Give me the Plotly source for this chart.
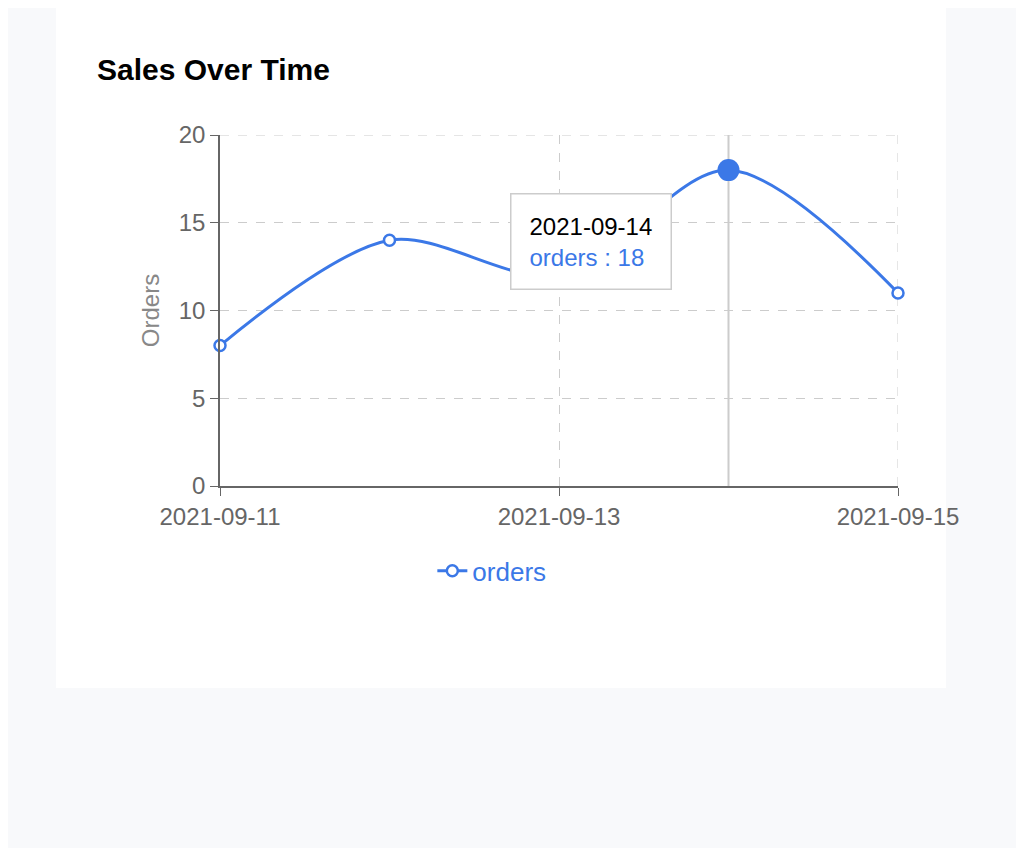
import plotly.graph_objects as go

dates = ["2021-09-11", "2021-09-12", "2021-09-13", "2021-09-14", "2021-09-15"]
orders = [8, 14, 12, 18, 11]
tick_dates = ["2021-09-11", "2021-09-13", "2021-09-15"]
active = 3
blue = "#3b78e7"

fig = go.Figure()
fig.add_trace(go.Scatter(x=dates, y=orders, mode="lines+markers", name="orders", cliponaxis=False,
    line=dict(color=blue, width=3, shape="spline", smoothing=0.9),
    marker=dict(size=11, color="white", line=dict(color=blue, width=2.5)),
    hoverinfo="skip"))
fig.add_trace(go.Scatter(x=[dates[active]], y=[orders[active]], mode="markers", showlegend=False,
    marker=dict(size=22, color=blue, line=dict(color="white", width=0)), hoverinfo="skip"))

fig.update_layout(
    width=1008, height=840, margin=dict(l=0, r=0, t=0, b=0, autoexpand=False),
    paper_bgcolor="#f8f9fb", plot_bgcolor="white",
    font=dict(family="Liberation Sans, Arial", color="#666", size=24),
    showlegend=True,
    legend=dict(x=0.48, y=0.33, xanchor="center", yanchor="middle", orientation="h",
                font=dict(color=blue, size=26), bgcolor="rgba(0,0,0,0)"),
    xaxis=dict(domain=[212/1008, 890/1008], type="date", range=["2021-09-11", "2021-09-15"],
               automargin=False,
               tickvals=tick_dates, ticktext=tick_dates, showgrid=True, gridcolor="#ccc",
               griddash="dash", showline=True, linecolor="#666", linewidth=1.5,
               ticks="outside", ticklen=8, tickcolor="#666", zeroline=False),
    yaxis=dict(domain=[1-478/840, 1-127/840], range=[0, 20], tickvals=[0, 5, 10, 15, 20],
               automargin=False,
               showgrid=True, gridcolor="#ccc", griddash="dash", showline=True,
               linecolor="#666", linewidth=1.5, ticks="outside", ticklen=8, tickcolor="#666",
               zeroline=False, title=dict(text="Orders", font=dict(size=24, color="#888"), standoff=12)),
)
fig.add_shape(type="rect", xref="paper", yref="paper", x0=48/1008, x1=938/1008,
              y0=1-680/840, y1=1.05, fillcolor="white", line=dict(width=0), layer="below")
fig.add_shape(type="line", xref="x", yref="y", x0=dates[0], x1=dates[-1], y0=20, y1=20,
              line=dict(color="#ccc", width=1, dash="dash"))
fig.add_shape(type="line", xref="x", yref="y", x0=dates[-1], x1=dates[-1], y0=0, y1=20,
              line=dict(color="#ccc", width=1, dash="dash"), layer="below")
fig.add_shape(type="line", xref="x", yref="y", x0=dates[active], x1=dates[active], y0=0, y1=20,
              line=dict(color="#ccc", width=2), layer="below")
fig.add_annotation(xref="paper", yref="paper", x=87/1008, y=1-62/840, xanchor="left", yanchor="middle",
                   text="<b>Sales Over Time</b>", showarrow=False, font=dict(size=30, color="black"))
fig.add_annotation(xref="paper", yref="paper", x=502/1008, y=1-185/840, xanchor="left", yanchor="top",
                   text="2021-09-14<br><span style='color:%s'>orders : %d</span>" % (blue, orders[active]),
                   showarrow=False, align="left", bgcolor="white", bordercolor="#ccc", borderwidth=1.5,
                   borderpad=18, font=dict(size=24, color="black"))
fig.write_html("out.html")
